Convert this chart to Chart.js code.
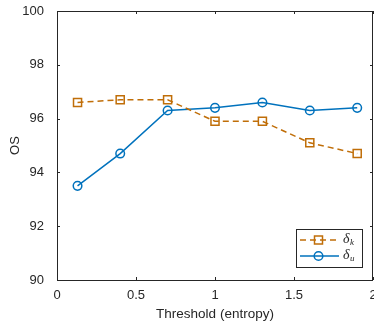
<!DOCTYPE html>
<html>
<head>
<meta charset="utf-8">
<script src="https://cdn.jsdelivr.net/npm/chart.js@4"></script>
<style>
  html, body { margin: 0; padding: 0; background: #fff; }
  #wrap { width: 374px; height: 327px; }
</style>
</head>
<body>
<div id="wrap"><canvas id="myChart" width="374" height="327"></canvas></div>
<script>
const thresholds = [0.13, 0.4, 0.7, 1.0, 1.3, 1.6, 1.9];
const deltaK = [96.6, 96.7, 96.7, 95.9, 95.9, 95.1, 94.7];
const deltaU = [93.5, 94.7, 96.3, 96.4, 96.6, 96.3, 96.4];
const seriesNames = ['k', 'u'];
const xTickLabels = ['0', '0.5', '1', '1.5', '2'];

const orange = '#C06E08';
const blue = '#0072BD';
const axisColor = '#262626';
const fontFam = 'Liberation Sans';

function toPoints(xs, ys) {
  return xs.map(function (x, i) { return { x: x, y: ys[i] }; });
}

// box + inward ticks like matlab, x labels drawn here so the "2" can sit on the edge
const boxPlugin = {
  id: 'boxPlugin',
  afterDraw: function (chart) {
    const ctx = chart.ctx;
    const a = chart.chartArea;
    const xs = chart.scales.x, ys = chart.scales.y;
    ctx.save();
    ctx.strokeStyle = axisColor;
    ctx.lineWidth = 1;
    ctx.strokeRect(a.left + 0.5, a.top + 0.5, a.right - a.left - 1, a.bottom - a.top);
    ctx.beginPath();
    xs.ticks.forEach(function (t) {
      const px = Math.round(xs.getPixelForValue(t.value)) + 0.5;
      ctx.moveTo(px, a.bottom); ctx.lineTo(px, a.bottom - 3);
      ctx.moveTo(px, a.top); ctx.lineTo(px, a.top + 3);
    });
    ys.ticks.forEach(function (t) {
      const py = Math.round(ys.getPixelForValue(t.value)) + 0.5;
      ctx.moveTo(a.left, py); ctx.lineTo(a.left + 3, py);
      ctx.moveTo(a.right, py); ctx.lineTo(a.right - 3, py);
    });
    ctx.stroke();

    ctx.fillStyle = axisColor;
    ctx.font = '13px "' + fontFam + '"';
    ctx.textAlign = 'center';
    ctx.textBaseline = 'middle';
    xs.ticks.forEach(function (t, i) {
      ctx.fillText(xTickLabels[i], xs.getPixelForValue(t.value), a.bottom + 15);
    });

    // legend
    const lx = 296, ly = 229, lw = 66, lh = 38;
    ctx.fillStyle = '#fff';
    ctx.fillRect(lx, ly, lw, lh);
    ctx.strokeStyle = axisColor;
    ctx.strokeRect(lx + 0.5, ly + 0.5, lw, lh);
    const rows = [
      { y: ly + 11, color: orange, dash: [6, 4], style: 'rect', name: seriesNames[0] },
      { y: ly + 27, color: blue, dash: [], style: 'circle', name: seriesNames[1] }
    ];
    rows.forEach(function (r) {
      ctx.strokeStyle = r.color;
      ctx.lineWidth = 1.5;
      ctx.setLineDash(r.dash);
      ctx.beginPath();
      ctx.moveTo(lx + 4, r.y); ctx.lineTo(lx + 43, r.y);
      ctx.stroke();
      ctx.setLineDash([]);
      ctx.beginPath();
      if (r.style === 'rect') ctx.rect(lx + 18.5, r.y - 4, 8, 8);
      else ctx.arc(lx + 22.5, r.y, 4.3, 0, Math.PI * 2);
      ctx.stroke();
      ctx.fillStyle = axisColor;
      ctx.textBaseline = 'middle';
      ctx.textAlign = 'left';
      ctx.font = 'italic 14px "Liberation Serif"';
      ctx.fillText('\u03b4', lx + 47, r.y - 1);
      ctx.font = 'italic 9px "Liberation Serif"';
      ctx.fillText(r.name, lx + 54, r.y + 3);
    });
    ctx.restore();
  }
};

const config = {
  type: 'line',
  data: {
    datasets: [{
      label: 'δk',
      data: toPoints(thresholds, deltaK),
      borderColor: orange,
      backgroundColor: 'transparent',
      borderWidth: 1.5,
      borderDash: [6, 4],
      pointStyle: 'rect',
      pointRadius: 5.7,
      pointBorderWidth: 1.5,
      pointBorderColor: orange,
      pointBackgroundColor: 'transparent',
      tension: 0
    }, {
      label: 'δu',
      data: toPoints(thresholds, deltaU),
      borderColor: blue,
      backgroundColor: 'transparent',
      borderWidth: 1.5,
      pointStyle: 'circle',
      pointRadius: 4.3,
      pointBorderWidth: 1.5,
      pointBorderColor: blue,
      pointBackgroundColor: 'transparent',
      tension: 0
    }]
  },
  options: {
    responsive: false,
    animation: false,
    layout: { autoPadding: false, padding: { top: 11, right: 1, left: 0, bottom: 0 } },
    plugins: { legend: { display: false }, tooltip: { enabled: false } },
    scales: {
      x: {
        type: 'linear',
        min: 0, max: 2,
        grid: { display: false },
        border: { display: false },
        ticks: { stepSize: 0.5, display: false },
        title: { display: true, text: 'Threshold (entropy)', color: axisColor, font: { family: fontFam, size: 13.5 }, padding: { top: 0, bottom: 5 } },
        afterFit: function (s) { s.height = 47; s.paddingLeft = 0; s.paddingRight = 0; }
      },
      y: {
        min: 90, max: 100,
        grid: { display: false },
        border: { display: false },
        ticks: { stepSize: 2, color: axisColor, font: { family: fontFam, size: 13 }, padding: 5 },
        title: { display: true, text: 'OS', color: axisColor, font: { family: fontFam, size: 13 }, padding: { top: 8, bottom: 4 } },
        afterFit: function (s) { s.width = 57; s.paddingTop = 0; s.paddingBottom = 0; }
      }
    }
  },
  plugins: [boxPlugin]
};

var myChart = new Chart(document.getElementById('myChart'), config);
</script>
</body>
</html>
